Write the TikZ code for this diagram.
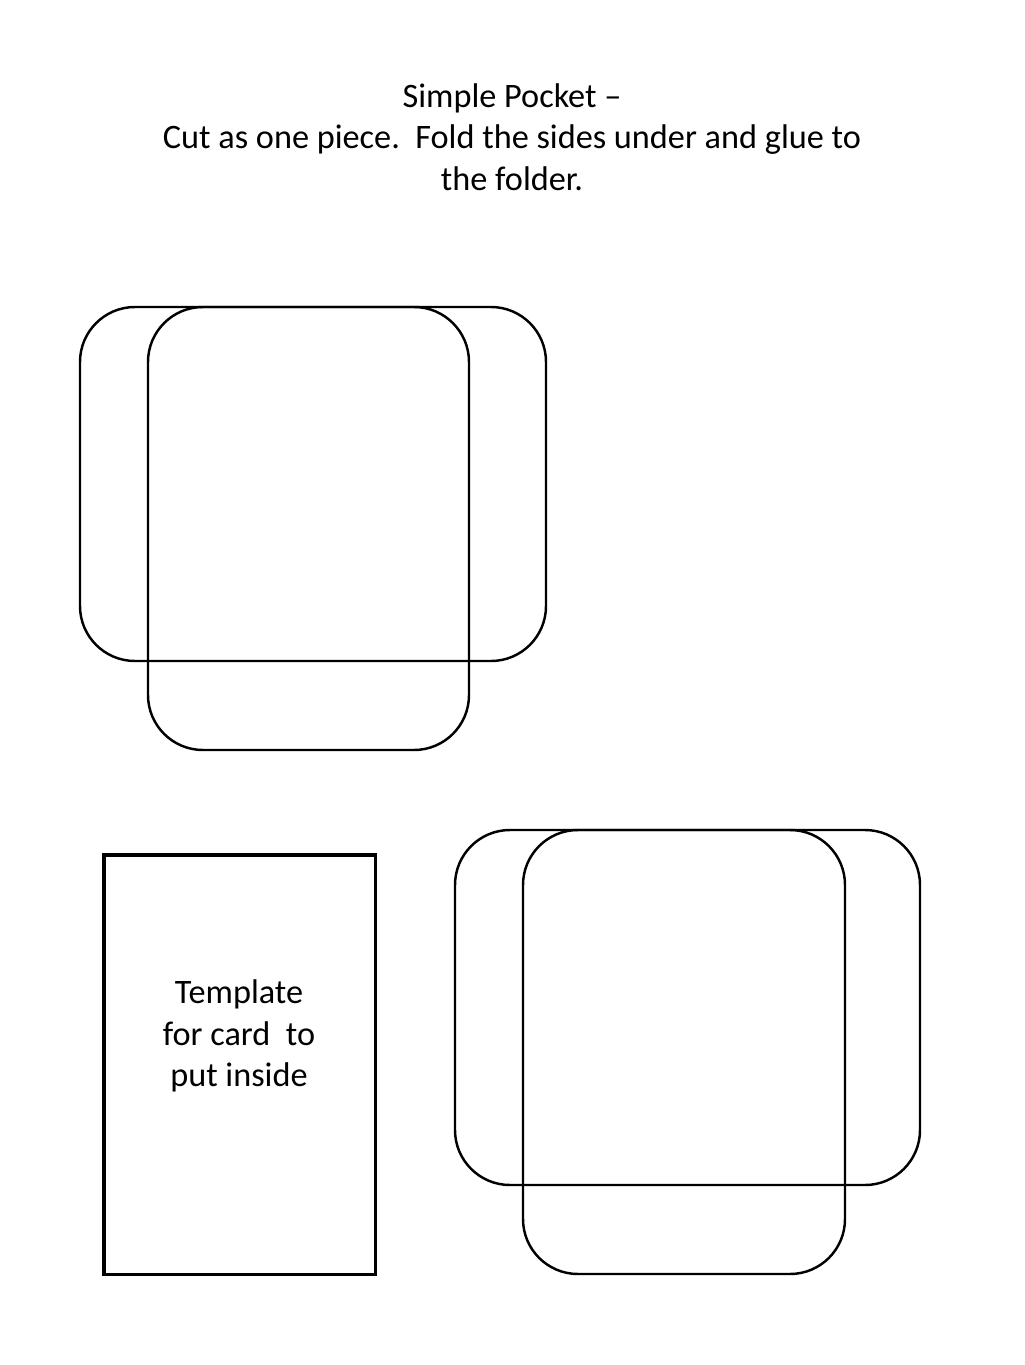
\documentclass[tikz,border=0pt]{standalone}
\usepackage{fontspec}
\setmainfont{Carlito}
\usetikzlibrary{positioning}

\tikzset{
  pocket/.style={draw, line width=1.4pt, rounded corners=1.1cm},
  cardbox/.style={draw, line width=2pt},
  caption/.style={align=center, font=\fontsize{19.5}{23.5}\selectfont},
}

\begin{document}
\begin{tikzpicture}[x=0.02cm,y=-0.02cm]
  \useasboundingbox (0,0) rectangle (1024,1365);
  % title
  \node[caption] (title) at (512,137) {Simple Pocket --\\Cut as one piece.\ \ Fold the sides under and glue to\\the folder.};
  % first pocket
  \draw[pocket] (80,307) rectangle (546,661);
  \draw[pocket] (148,307) rectangle (469,750);
  % second pocket
  \draw[pocket] (455,830) rectangle (920,1185);
  \draw[pocket] (523,830) rectangle (845,1274);
  % card template
  \node[cardbox, minimum width=5.44cm, minimum height=8.4cm, anchor=north west] (card) at (102,853) {};
  \node[caption] (cardtext) at (239,1036) {Template\\for card\ \ to\\put inside};
\end{tikzpicture}
\end{document}
